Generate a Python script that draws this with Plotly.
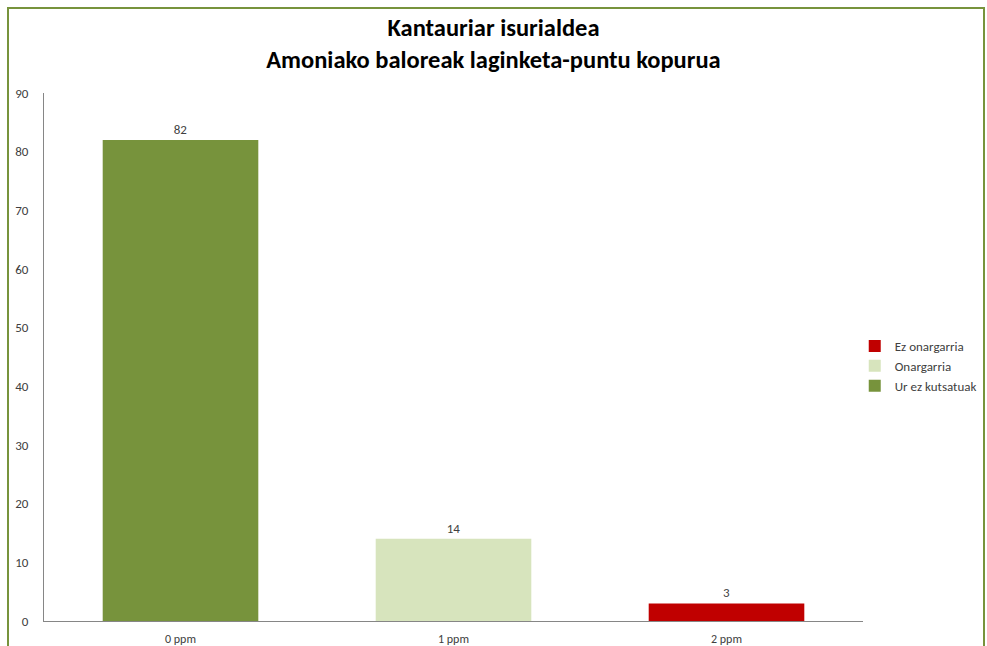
import plotly.graph_objects as go

categories = ["0 ppm", "1 ppm", "2 ppm"]
series_names = ["Ur ez kutsatuak", "Onargarria", "Ez onargarria"]
series_values = [82, 14, 3]
series_colors = ["#77933C", "#D7E4BD", "#C00000"]

FONT = "Calibri, 'Liberation Sans Narrow', Lato, sans-serif"

fig = go.Figure()

for cat, name, val, color in zip(categories, series_names, series_values, series_colors):
    fig.add_trace(
        go.Bar(
            x=[cat],
            y=[val],
            name=name,
            marker=dict(color=color, line=dict(width=0)),
            width=0.57,
            text=[val],
            textposition="outside",
            textfont=dict(size=13, color="#404040", family=FONT),
            cliponaxis=False,
        )
    )

# outer green frame of the chart
fig.add_shape(
    type="rect",
    xref="paper", yref="paper",
    x0=(8 - 44) / 819, x1=(984 - 44) / 819,
    y0=-0.08, y1=(621 - 8) / 528,
    line=dict(color="#77933C", width=2),
    layer="below",
)

fig.update_layout(
    width=987,
    height=646,
    margin=dict(l=44, r=124, t=93, b=25, autoexpand=False),
    paper_bgcolor="white",
    plot_bgcolor="white",
    barmode="overlay",
    font=dict(family=FONT, color="#404040", size=13),
    title=dict(
        text="Kantauriar isurialdea<br>Amoniako baloreak laginketa-puntu kopurua",
        x=0.5,
        xanchor="center",
        yref="container",
        y=1 - 36 / 646,
        yanchor="middle",
        font=dict(size=24.5, color="black", family=FONT, weight="bold"),
    ),
    xaxis=dict(
        categoryorder="array",
        categoryarray=categories,
        showline=True,
        linecolor="#868686",
        linewidth=1,
        ticks="",
        showgrid=False,
        automargin=False,
        tickfont=dict(size=12, color="#404040"),
        ticklabelstandoff=7,
    ),
    yaxis=dict(
        range=[0, 90],
        dtick=10,
        showline=True,
        linecolor="#868686",
        linewidth=1,
        ticks="",
        showgrid=False,
        zeroline=False,
        automargin=False,
        tickfont=dict(size=13, color="#404040"),
        ticklabelstandoff=12,
    ),
    legend=dict(
        xref="container",
        yref="container",
        x=0.866,
        y=1 - 366 / 646,
        xanchor="left",
        yanchor="middle",
        traceorder="reversed",
        bgcolor="rgba(0,0,0,0)",
        font=dict(size=13, color="#404040"),
        itemwidth=30,
    ),
    showlegend=True,
)

fig.write_html(
    "out.html",
    config={"displayModeBar": False},
    post_script="document.body.style.margin='0';",
)
